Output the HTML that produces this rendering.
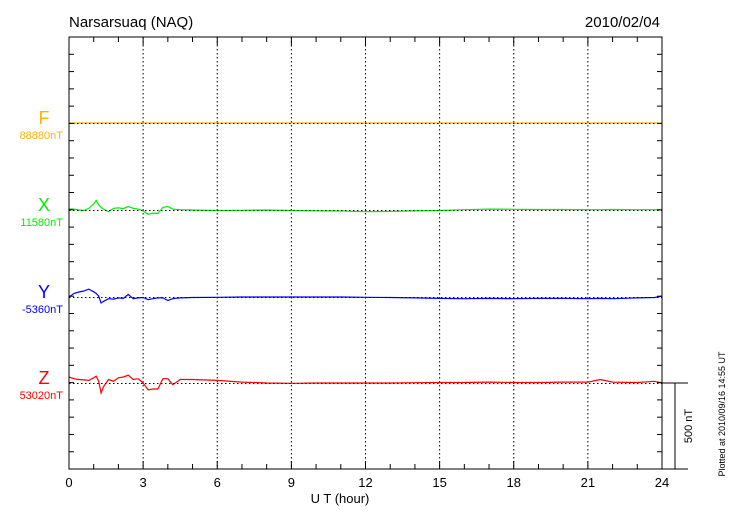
<!DOCTYPE html>
<html><head><meta charset="utf-8"><style>
html,body{margin:0;padding:0;background:#fff;}
svg{display:block;font-family:"Liberation Sans",sans-serif;}
</style></head><body>
<svg id="chart" width="730" height="520" viewBox="0 0 730 520">
<text x="69" y="27" font-size="15" fill="#000">Narsarsuaq (NAQ)</text>
<text x="660" y="27" font-size="15" fill="#000" text-anchor="end">2010/02/04</text>
<g id="grid"></g>
<g id="series"></g>
<g id="axes"></g>
<text x="340" y="503" font-size="13" text-anchor="middle">U T (hour)</text>
<text transform="translate(692,426) rotate(-90)" font-size="11" text-anchor="middle">500 nT</text>
<text transform="translate(725,414) rotate(-90)" font-size="9" text-anchor="middle">Plotted at 2010/09/16 14:55 UT</text>
</svg>
<script>
const times = [0,0.2,0.4,0.6,0.8,1.0,1.1,1.2,1.3,1.4,1.6,1.8,2.0,2.2,2.4,2.6,2.8,3.0,3.2,3.4,3.6,3.8,4.0,4.2,4.5,5,6,7,8,9,10,11,12,13,14,15,16,17,18,19,20,21,21.5,22,23,23.7,24];
const seriesF = [0,0,0,0,0,0,0,0,0,0,0,0,0,0,0,0,0,0,0,0,0,0,0,0,0,0,0,0,0,0,0,0,0,0,0,0,0,0,0,0,0,0,0,0,0,0,0];
const seriesX = [6,5,0,-3,10,35,55,30,15,5,-10,10,12,8,20,10,5,-5,-25,-18,-20,15,20,5,2,0,-3,-2,0,-3,-5,-6,-10,-8,-5,-3,2,5,4,3,3,2,2,3,2,2,0];
const seriesY = [0,20,29,35,46,30,20,5,-35,-25,-10,-12,-5,-8,15,-10,-5,-3,-15,-10,-5,-5,-20,-10,-5,-3,-2,0,0,0,0,0,-2,-3,-5,-8,-10,-8,-10,-8,-8,-10,-8,-10,-5,-3,5];
const seriesZ = [35,25,20,18,15,30,40,10,-58,-20,20,10,30,35,45,20,25,0,-40,-35,-35,25,25,-10,20,20,15,5,0,-2,0,0,0,0,2,3,3,5,3,3,5,5,20,5,3,10,0];
const seriesNames = ["F","X","Y","Z"];
const baseLabels = ["88880nT","11580nT","-5360nT","53020nT"];
const xTickLabels = [0,3,6,9,12,15,18,21,24];

const L=69,R=662,T=37,B=469;
const NS="http://www.w3.org/2000/svg";
const pxPerNT = 86.4/500;
const baselines=[123,210,297,383];
const colors=["#ffb400","#00ee00","#0000ff","#ff0000"];
const xs = h => L + h*(R-L)/24;
const ys = (i,v) => baselines[i] - v*pxPerNT;
function el(tag,attrs,parent){const e=document.createElementNS(NS,tag);for(const k in attrs)e.setAttribute(k,attrs[k]);parent.appendChild(e);return e;}
const grid=document.getElementById('grid'),axes=document.getElementById('axes'),ser=document.getElementById('series');
for(let h=3;h<24;h+=3){
  const g=el('line',{x1:xs(h),x2:xs(h),y1:T,y2:B,stroke:'#000','stroke-width':1,'stroke-dasharray':'1.5,2.5'},grid);
  
  
}
const data=[seriesF,seriesX,seriesY,seriesZ];
data.forEach((vals,i)=>{
  const pts=vals.map((v,j)=>xs(times[j]).toFixed(1)+','+ys(i,v).toFixed(1)).join(' ');
  const p=el('polyline',{points:pts,fill:'none',stroke:colors[i],'stroke-width':1.2},ser);
  
  
  const bl=el('line',{x1:L,x2:R,y1:baselines[i]+0.5,y2:baselines[i]+0.5,stroke:'#000','stroke-width':1,'stroke-dasharray':'1.5,2.5'},ser);
  
  
  const t=el('text',{x:44,y:baselines[i]+1,'font-size':18,'text-anchor':'middle',fill:colors[i]},axes);
  t.textContent=seriesNames[i];
  
  
  const b=el('text',{x:63,y:baselines[i]+16,'font-size':11,'text-anchor':'end',fill:colors[i]},axes);
  b.textContent=baseLabels[i];
  
  
});
const fr=el('rect',{x:L,y:T,width:R-L,height:B-T,fill:'none',stroke:'#000','stroke-width':1},axes);


for(let y=T+17.3;y<B-1;y+=17.28){
  const a=el('line',{x1:L,x2:L+5,y1:y,y2:y,stroke:'#000'},axes);
  
  
  const c=el('line',{x1:R-5,x2:R,y1:y,y2:y,stroke:'#000'},axes);
  
  
}
for(let h=1;h<24;h++){
  const len=(h%3===0)?8:5;
  const a=el('line',{x1:xs(h),x2:xs(h),y1:B,y2:B-len,stroke:'#000'},axes);
  
  
  const c=el('line',{x1:xs(h),x2:xs(h),y1:T,y2:T+len,stroke:'#000'},axes);
  
  
}
xTickLabels.forEach(h=>{
  const t=el('text',{x:xs(h),y:487,'font-size':13,'text-anchor':'middle'},axes);
  t.textContent=h;
  
  
});
const s1=el('line',{x1:R,x2:688,y1:383,y2:383,stroke:'#000'},axes);


const s2=el('line',{x1:R,x2:688,y1:B,y2:B,stroke:'#000'},axes);


const s3=el('line',{x1:675,x2:675,y1:383,y2:B,stroke:'#000'},axes);


</script>
</body></html>
